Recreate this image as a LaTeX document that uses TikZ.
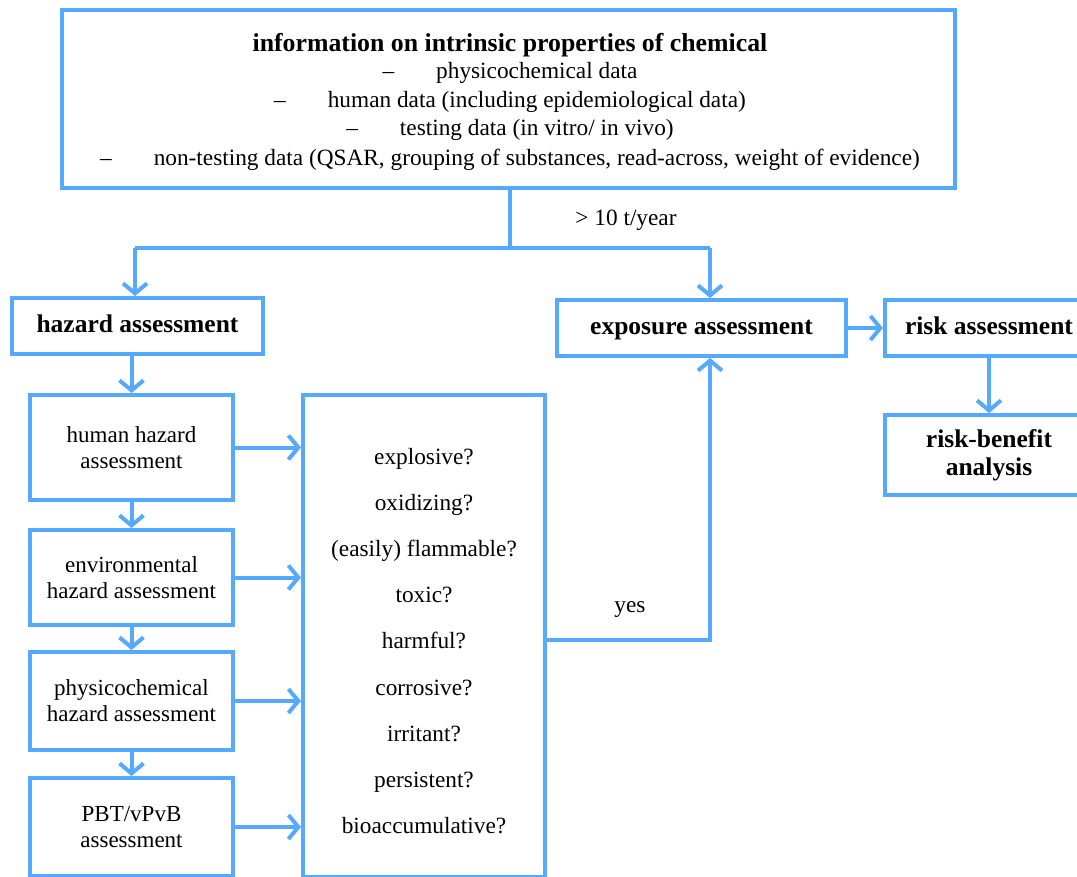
\documentclass[tikz,border=0pt]{standalone}
\usepackage{fontspec}
\setmainfont{Liberation Serif}
\usetikzlibrary{arrows.meta,calc}
\definecolor{myblue}{RGB}{85,170,255}
\tikzset{
  box/.style={draw=myblue, line width=4pt, inner sep=0pt, align=center},
  onebox/.style={box, text height=18pt, text depth=5pt},
  conn/.style={draw=myblue, line width=4pt},
  arr/.style={draw=myblue, line width=4pt, -{Straight Barb[length=10pt,width=24pt]}},
  bodyfont/.style={font=\fontsize{23.3}{27}\selectfont},
  boldfont/.style={font=\bfseries\fontsize{25.5}{28}\selectfont},
  smallfont/.style={font=\fontsize{23}{26}\selectfont},
}
\begin{document}
\begin{tikzpicture}[x=1pt,y=-1pt]
\useasboundingbox (0,0) rectangle (1077,877);
% top box
\node[box, minimum width=893pt, minimum height=178pt] (top) at (508.5,99) {};
\node[font=\bfseries\fontsize{25.8}{28}\selectfont] (t0) at (510,45) {information on intrinsic properties of chemical};
\node[bodyfont] (t1) at (510,73) {–\hspace{42pt}physicochemical data};
\node[bodyfont] (t2) at (510,102) {–\hspace{42pt}human data (including epidemiological data)};
\node[bodyfont] (t3) at (510,130) {–\hspace{42pt}testing data (in vitro/ in vivo)};
\node[bodyfont] (t4) at (510,160) {–\hspace{42pt}non-testing data (QSAR, grouping of substances, read-across, weight of evidence)};
% main row
\node[onebox, boldfont, minimum width=251pt, minimum height=56pt] (hz) at (137.5,326) {hazard assessment};
\node[onebox, boldfont, minimum width=289pt, minimum height=56pt] (ex) at (701.5,328) {exposure assessment};
\node[onebox, boldfont, minimum width=208pt, minimum height=56pt] (ri) at (989,328) {risk assessment};
\node[box, boldfont, minimum width=208pt, minimum height=80pt] (rb) at (989,455) {risk-benefit\\analysis};
% hazard sub-boxes
\node[box, smallfont, minimum width=203pt, minimum height=105pt] (hh) at (131.5,447.5) {human hazard\\assessment};
\node[box, smallfont, minimum width=203pt, minimum height=95pt] (en) at (131.5,577.5) {environmental\\hazard assessment};
\node[box, smallfont, minimum width=203pt, minimum height=98pt] (ph) at (131.5,701) {physicochemical\\hazard assessment};
\node[box, smallfont, minimum width=203pt, minimum height=98pt] (pb) at (131.5,827) {PBT/vPvB\\assessment};
% big box
\node[box, minimum width=242pt, minimum height=482pt] (big) at (424,636) {};
\node[font=\fontsize{23.3}{46.1}\selectfont, align=center] (bt) at (424,641) {explosive?\\oxidizing?\\(easily) flammable?\\toxic?\\harmful?\\corrosive?\\irritant?\\persistent?\\bioaccumulative?};
% connectors
\coordinate (jl) at (135,248);
\coordinate (jr) at (710,248);
\draw[conn] (top.south -| 510,0) -- (510,248);
\draw[conn] (jl) -- (jr);
\draw[arr] (jl) -- (jl |- hz.north);
\draw[arr] (jr) -- (jr |- ex.north);
\node[bodyfont] (lbl10) at (626,220) {> 10 t/year};
\draw[arr] (hz.south -| hh.north) -- (hh.north);
\draw[arr] (hh.south) -- (en.north);
\draw[arr] (en.south) -- (ph.north);
\draw[arr] (ph.south) -- (pb.north);
\draw[arr] (hh.east) -- (hh.east -| big.west);
\draw[arr] (en.east) -- (en.east -| big.west);
\draw[arr] (ph.east) -- (ph.east -| big.west);
\draw[arr] (pb.east) -- (pb.east -| big.west);
\coordinate (yc) at (710,640);
\draw[arr] (big.east |- yc) -- (yc) -- (yc |- ex.south);
\node[bodyfont] (lblyes) at (630,610) {yes};
\draw[arr] (ex.east) -- (ri.west);
\draw[arr] (ri.south -| rb.north) -- (rb.north);
\end{tikzpicture}
\end{document}
